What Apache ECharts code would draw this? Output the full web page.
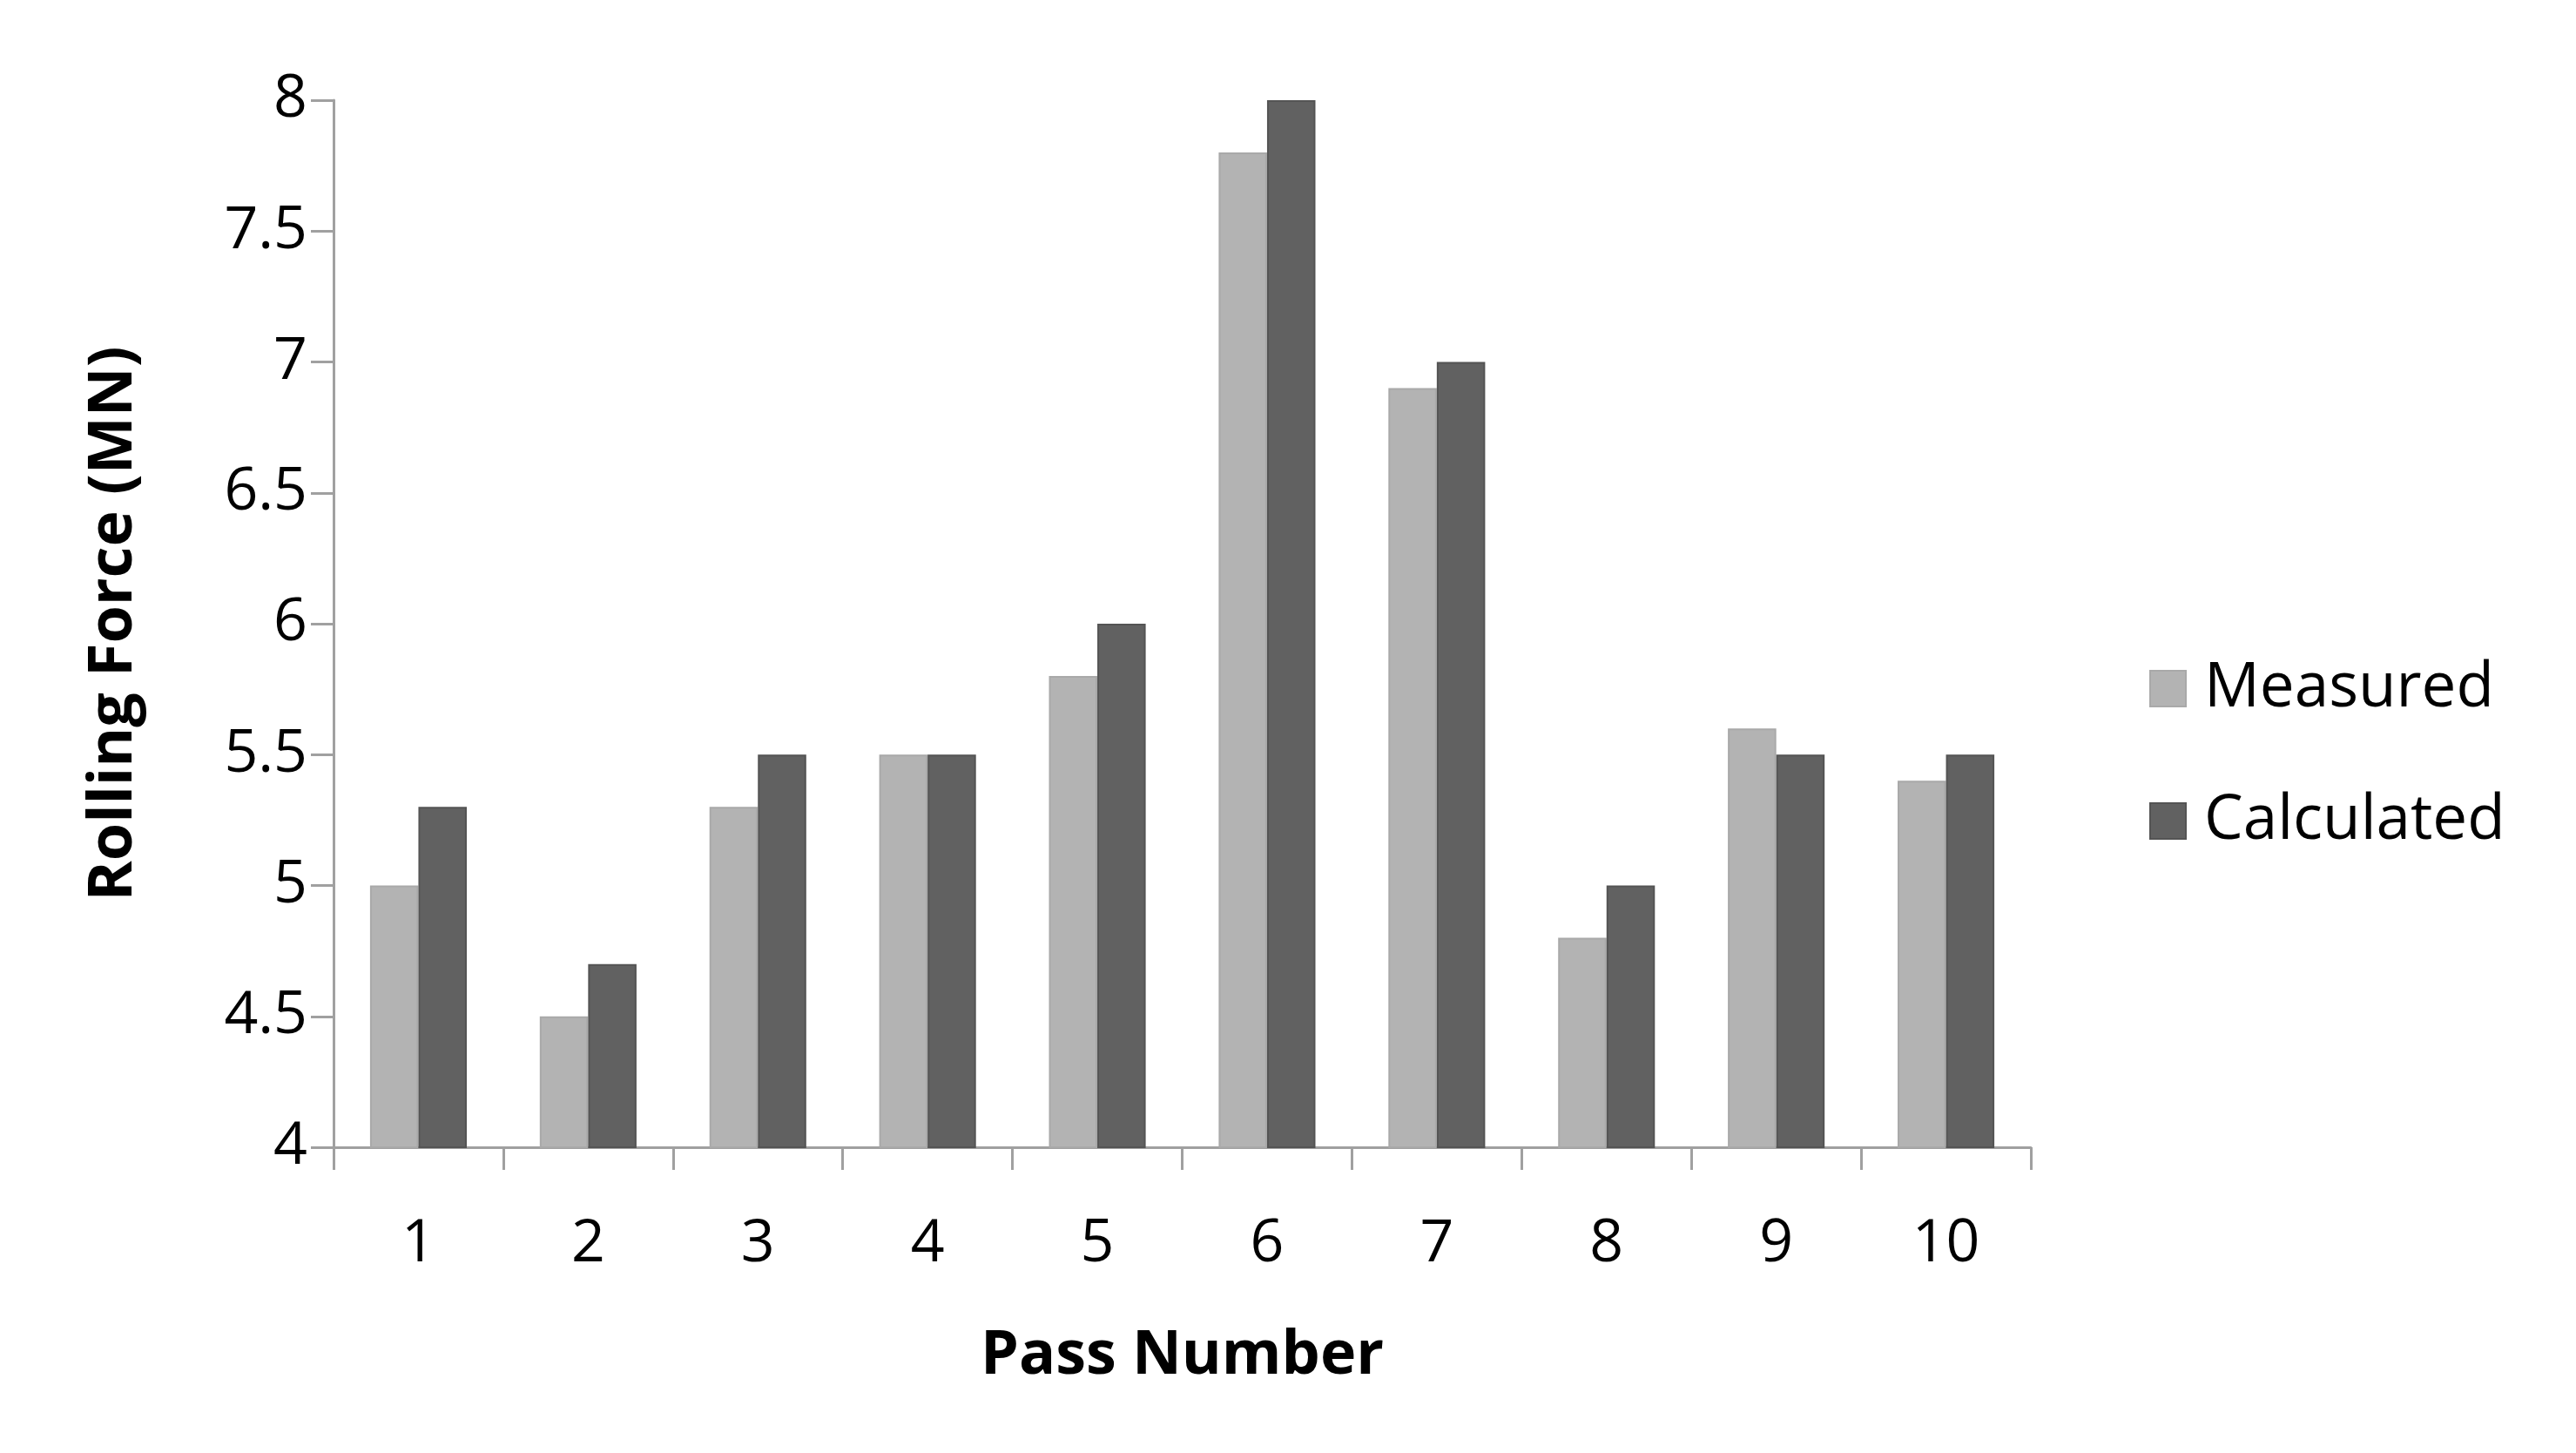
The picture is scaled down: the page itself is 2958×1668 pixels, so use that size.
<!DOCTYPE html>
<html>
<head>
<meta charset="utf-8">
<script src="https://cdn.jsdelivr.net/npm/echarts@6/dist/echarts.min.js"></script>
<style>
  html, body { margin: 0; padding: 0; background: #fff; }
  #chart { width: 2958px; height: 1668px; }
</style>
</head>
<body>
<div id="chart"></div>
<script>
const passes = ['1', '2', '3', '4', '5', '6', '7', '8', '9', '10']
const measured = [5.0, 4.5, 5.3, 5.5, 5.8, 7.8, 6.9, 4.8, 5.6, 5.4]
const calculated = [5.3, 4.7, 5.5, 5.5, 6.0, 8.0, 7.0, 5.0, 5.5, 5.5]

const font = '"Open Sans", "Noto Sans", sans-serif'
const axisGray = '#a0a0a0'

const chart = echarts.init(document.getElementById('chart'), null, { renderer: 'canvas' })

let options = {
  backgroundColor: '#ffffff',
  animation: false,
  grid: {
    left: 383,
    right: 626,
    top: 115,
    bottom: 351,
    containLabel: false
  },
  legend: {
    orient: 'vertical',
    left: 2463,
    top: 750,
    itemWidth: 41,
    itemHeight: 41,
    itemGap: 81,
    icon: 'rect',
    textStyle: {
      fontFamily: font,
      fontSize: 71,
      color: '#000',
      lineHeight: 70,
      padding: [0, 0, 0, 16]
    },
    data: ['Measured', 'Calculated']
  },
  xAxis: {
    type: 'category',
    data: passes,
    name: 'Pass Number',
    nameLocation: 'middle',
    nameGap: 205,
    nameTextStyle: {
      fontFamily: font,
      fontSize: 70,
      fontWeight: 'bold',
      color: '#000'
    },
    axisLine: { lineStyle: { color: axisGray, width: 3 } },
    axisTick: { show: true, length: 26, lineStyle: { color: axisGray, width: 3 } },
    axisLabel: {
      margin: 78,
      fontFamily: font,
      fontSize: 68,
      color: '#000'
    }
  },
  yAxis: {
    type: 'value',
    min: 4,
    max: 8,
    interval: 0.5,
    name: 'Rolling Force (MN)',
    nameLocation: 'middle',
    nameGap: 217,
    nameTextStyle: {
      fontFamily: font,
      fontSize: 70,
      fontWeight: 'bold',
      color: '#000'
    },
    axisLine: { show: true, lineStyle: { color: axisGray, width: 3 } },
    axisTick: { show: true, length: 26, lineStyle: { color: axisGray, width: 3 } },
    splitLine: { show: false },
    axisLabel: {
      margin: 30,
      fontFamily: font,
      fontSize: 68,
      color: '#000'
    }
  },
  series: [
    {
      name: 'Measured',
      type: 'bar',
      barGap: '0%',
      barCategoryGap: '43%',
      itemStyle: { color: '#b3b3b3', borderColor: '#a9a9a9', borderWidth: 2 },
      data: measured
    },
    {
      name: 'Calculated',
      type: 'bar',
      barGap: '0%',
      barCategoryGap: '43%',
      itemStyle: { color: '#616161', borderColor: '#545454', borderWidth: 2 },
      data: calculated
    }
  ]
}

chart.setOption(options)
</script>
</body>
</html>
